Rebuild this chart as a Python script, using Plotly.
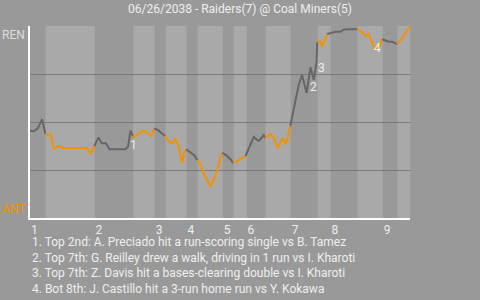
import bisect
import plotly.graph_objects as go

# Game progress (% of game) and Raiders win probability (%)
progress = [0, 1.05, 2.05, 3.16, 4.08,
            4.87, 5.39, 6.26, 7.1, 7.95, 8.55, 10.66, 12.76, 15.0, 15.92, 16.97,
            18.03, 18.82, 20.0, 20.92, 22.5, 23.8, 25.13, 25.8, 26.45, 27.1,
            27.76, 28.63, 29.95, 30.92, 31.84, 32.7,
            33.9, 34.7, 35.6,
            36.5, 37.4, 38.3, 39.16, 40.05, 40.66, 41.1,
            42.2, 43.3, 44.0,
            45.0, 45.7, 46.6, 47.5, 48.4, 49.3, 50.1, 50.6,
            51.7, 52.8, 53.5,
            54.5, 55.4, 56.7,
            58.0, 58.9, 59.8, 60.3, 61.5, 61.9,
            63.3, 64.2, 65.2, 66.4, 67.4, 68.5,
            68.9, 69.9, 70.7, 71.6, 72.8, 73.8, 74.7, 75.4, 75.6,
            76.3, 76.9, 77.8, 78.2,
            79.3, 80.4, 81.7, 82.6, 84.3, 86.1,
            87.0, 88.3, 89.2, 90.05, 90.9, 91.8, 92.7,
            93.55, 94.4, 95.3, 96.6,
            97.9, 99.3, 100]
win_prob = [45.5, 45.2, 46.7, 51.4, 43.75,
            43.2, 43.75, 36.1, 37.0, 37.3, 36.5, 36.5, 36.5, 36.5, 33.3, 37.5,
            42.0, 38.9, 38.9, 35.8, 35.8, 35.8, 35.8, 37.2, 45.5, 42.7,
            42.4, 44.1, 45.5, 44.4, 42.7, 46.7,
            45.5, 44.0, 42.7,
            40.1, 38.9, 41.5, 36.8, 28.8, 33.7, 35.8,
            34.4, 32.6, 30.2,
            27.6, 23.3, 19.8, 16.3, 20.3, 25.0, 31.25, 34.0,
            32.6, 30.5, 28.5,
            29.7, 30.7, 32.3,
            38.5, 42.2, 40.6, 40.3, 43.2, 41.7,
            43.75, 41.5, 36.3, 41.5, 38.5, 47.9,
            52.1, 63.0, 69.3, 74.5, 65.1, 78.6, 71.9, 81.25, 91.7,
            92.3, 89.3, 93.1, 95.8,
            96.5, 97.0, 97.0, 98.2, 98.3, 98.3,
            97.4, 94.8, 95.8, 91.0, 87.9, 88.7, 93.1,
            92.3, 91.8, 91.8, 90.6,
            93.6, 97.9, 100]

# Half-inning boundaries (% of game); even index = top, odd = bottom
half_starts = [0, 4.1, 17.0, 27.2, 32.8, 35.7, 41.2, 44.1, 50.7, 53.6,
               57.0, 62.0, 68.6, 75.7, 79.1, 86.2, 92.8, 96.7]
game_end = 100
inning_labels = ["1", "2", "3", "4", "5", "6", "7", "8", "9"]

# Key plays: label, progress, win prob
note_ids = ["1", "2", "3", "4"]
note_x = [27.3, 74.7, 76.7, 91.5]
note_y = [38.0, 68.4, 78.3, 88.4]
notes = [
    "1. Top 2nd: A. Preciado hit a run-scoring single vs B. Tamez",
    "2. Top 7th: G. Reilley drew a walk, driving in 1 run vs I. Kharoti",
    "3. Top 7th: Z. Davis hit a bases-clearing double vs I. Kharoti",
    "4. Bot 8th: J. Castillo hit a 3-run home run vs Y. Kokawa",
]
title = "06/26/2038 - Raiders(7) @ Coal Miners(5)"
team_top, team_bottom = "REN", "ANT"

BG = "#999999"
LIGHT = "#a9a9a9"
GRAY_LINE = "#666666"
ORANGE = "#f39200"
TXT = "#eeeeee"
FONT = "Roboto"

fig = go.Figure()

# group points by half-inning
groups = {}
for x, y in zip(progress, win_prob):
    k = max(0, bisect.bisect_right(half_starts, x) - 1)
    groups.setdefault(k, []).append((x, y))

prev = None
for k in sorted(groups):
    pts = groups[k]
    if prev is not None:
        pts = [prev] + pts
    fig.add_trace(go.Scatter(
        x=[p[0] for p in pts], y=[p[1] for p in pts], mode="lines",
        line=dict(color=GRAY_LINE if k % 2 == 0 else ORANGE, width=2),
        hoverinfo="skip", showlegend=False))
    prev = pts[-1]

# bands
edges = half_starts + [game_end]
shapes = []
for i in range(len(half_starts)):
    if i % 2 == 1:
        shapes.append(dict(type="rect", xref="x", yref="paper",
                           x0=edges[i], x1=edges[i + 1], y0=0, y1=1,
                           fillcolor=LIGHT, line=dict(width=0), layer="below"))

annotations = []
for t, x, y in zip(note_ids, note_x, note_y):
    annotations.append(dict(x=x, y=y, xref="x", yref="y", text=t, showarrow=False,
                            font=dict(family=FONT, size=12, color=TXT)))
annotations.append(dict(x=0, y=1, xref="paper", yref="paper", text=team_top,
                        xanchor="right", yanchor="top", xshift=-3, showarrow=False,
                        font=dict(family=FONT, size=12, color="#dddddd")))
annotations.append(dict(x=0, y=0, xref="paper", yref="paper", text=team_bottom,
                        xanchor="right", yanchor="bottom", xshift=-3, showarrow=False,
                        font=dict(family=FONT, size=12, color=ORANGE)))
note_py = [241.7, 257.7, 273.0, 288.7]
for n, py in zip(notes, note_py):
    annotations.append(dict(x=0, y=(218 - py) / 192, xref="paper", yref="paper",
                            text=n, xanchor="left", yanchor="middle", showarrow=False,
                            font=dict(family=FONT, size=12, color=TXT)))

inning_starts = [half_starts[i] for i in range(0, len(half_starts), 2)]

fig.update_layout(
    width=480, height=300,
    margin=dict(l=30, r=70, t=26, b=82),
    paper_bgcolor=BG, plot_bgcolor=BG,
    font=dict(family=FONT, size=12, color=TXT),
    title=dict(text=title, x=0.5, xref="container", xanchor="center",
               y=1 - 9 / 300, yanchor="middle", yref="container",
               font=dict(family=FONT, size=12, color=TXT)),
    shapes=shapes, annotations=annotations,
    xaxis=dict(range=[0, game_end], showgrid=False, zeroline=False,
               tickvals=inning_starts, ticktext=inning_labels,
               ticklabelposition="outside right",
               showline=True, linecolor="#ffffff", linewidth=2,
               tickfont=dict(family=FONT, size=12, color=TXT), fixedrange=True),
    yaxis=dict(range=[0, 100], tickvals=[25, 50, 75, 100], showticklabels=False,
               showgrid=True, gridcolor="#7a7a7a", gridwidth=1, zeroline=False,
               showline=True, linecolor="#ffffff", linewidth=2, fixedrange=True),
)

fig.write_html("out.html")
